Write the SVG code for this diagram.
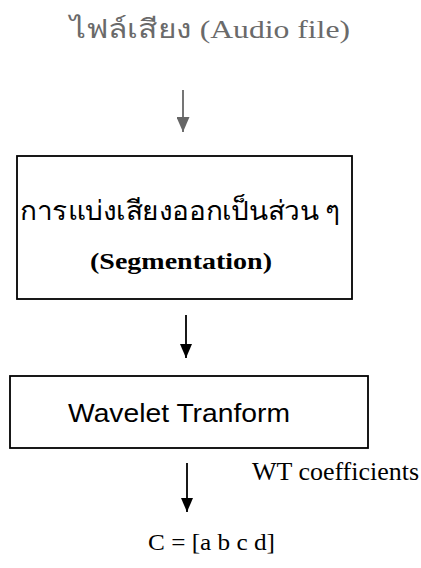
<svg xmlns="http://www.w3.org/2000/svg" width="421" height="568" viewBox="0 0 421 568">
<defs>
<style>
.serif{font-family:"Liberation Serif","Times New Roman",serif;fill:#000}
.sans{font-family:"Liberation Sans",Arial,sans-serif;fill:#000}
.box{fill:#fff;stroke:#000;stroke-width:1.8}
.conn{stroke:#000;stroke-width:1.8;fill:none}
</style>
<marker id="ah" viewBox="0 0 10 10" refX="10" refY="5" markerWidth="14" markerHeight="12" markerUnits="userSpaceOnUse" orient="auto" preserveAspectRatio="none">
<path d="M0,0 L10,5 L0,10 z" fill="#000"/>
</marker>
<marker id="ahg" viewBox="0 0 10 10" refX="10" refY="5" markerWidth="15" markerHeight="13" markerUnits="userSpaceOnUse" orient="auto" preserveAspectRatio="none">
<path d="M0,0 L10,5 L0,10 z" fill="#666"/>
</marker>
</defs>
<rect width="421" height="568" fill="#fff"/>
<g id="input">
<text class="serif" x="70" y="38" font-size="26" textLength="280" lengthAdjust="spacingAndGlyphs" style="fill:#6a6a6a">ไฟล์เสียง (Audio file)</text>
</g>
<g id="segmentation">
<rect class="box" x="17" y="156" width="335" height="143"/>
<text class="serif" x="20" y="220" font-size="27" textLength="321" lengthAdjust="spacingAndGlyphs">การแบ่งเสียงออกเป็นส่วน ๆ</text>
<text class="serif" x="90" y="269" font-size="24" font-weight="bold" textLength="182" lengthAdjust="spacingAndGlyphs">(Segmentation)</text>
</g>
<g id="wavelet">
<rect class="box" x="10" y="376" width="358" height="72"/>
<text class="sans" x="68" y="422" font-size="26" textLength="222" lengthAdjust="spacingAndGlyphs">Wavelet Tranform</text>
</g>
<g id="output">
<text class="serif" x="252" y="480" font-size="25" textLength="167" lengthAdjust="spacingAndGlyphs">WT coefficients</text>
<text class="serif" x="148" y="550" font-size="24" textLength="127" lengthAdjust="spacingAndGlyphs">C = [a b c d]</text>
</g>
<g id="connectors">
<line class="conn" x1="183" y1="90" x2="183" y2="132" style="stroke:#666" marker-end="url(#ahg)"/>
<line class="conn" x1="186" y1="315" x2="186" y2="358" marker-end="url(#ah)"/>
<line class="conn" x1="187" y1="463" x2="187" y2="512" marker-end="url(#ah)"/>
</g>
</svg>
